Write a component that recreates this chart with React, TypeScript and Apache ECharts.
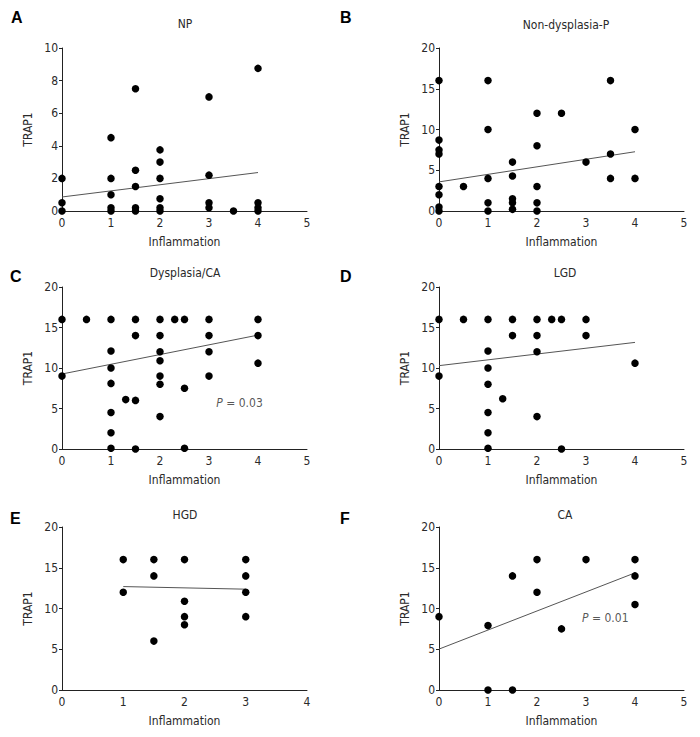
import React, { useEffect, useRef } from "react";
import * as echarts from "echarts";

const FONT = "'DejaVu Sans Condensed', 'DejaVu Sans', sans-serif";
const TXT = "#2a2a2a";

// Panel titles and letters
const panelLetters = ["A", "B", "C", "D", "E", "F"];
const panelTitles = ["NP", "Non-dysplasia-P", "Dysplasia/CA", "LGD", "HGD", "CA"];
const xAxisName = "Inflammation";
const yAxisName = "TRAP1";

// Axis ranges per panel
const xMaxes = [5, 5, 5, 5, 4, 5];
const yMaxes = [10, 20, 20, 20, 20, 20];
const yIntervals = [2, 5, 5, 5, 5, 5];

// Data points [inflammation, TRAP1]
const pointsNP = [
  [0, 2], [0, 0.5], [0, 0],
  [1, 4.5], [1, 2], [1, 1], [1, 0.2], [1, 0],
  [1.5, 7.5], [1.5, 2.5], [1.5, 1.5], [1.5, 0.2], [1.5, 0],
  [2, 3.75], [2, 3], [2, 2], [2, 0.75], [2, 0.2], [2, 0],
  [3, 7], [3, 2.2], [3, 0.5], [3, 0.2],
  [3.5, 0],
  [4, 8.75], [4, 0.5], [4, 0.2], [4, 0],
];
const pointsNonDysP = [
  [0, 16], [0, 8.7], [0, 7.5], [0, 7], [0, 3], [0, 2], [0, 0.5], [0, 0],
  [0.5, 3],
  [1, 16], [1, 10], [1, 4], [1, 1], [1, 0],
  [1.5, 6], [1.5, 4.3], [1.5, 1.5], [1.5, 1], [1.5, 0.2],
  [2, 12], [2, 8], [2, 3], [2, 1], [2, 0],
  [2.5, 12],
  [3, 6],
  [3.5, 16], [3.5, 7], [3.5, 4],
  [4, 10], [4, 4],
];
const pointsDysCA = [
  [0, 16], [0, 9],
  [0.5, 16],
  [1, 16], [1, 12.1], [1, 10], [1, 8.1], [1, 4.5], [1, 2], [1, 0.1],
  [1.3, 6.1],
  [1.5, 16], [1.5, 14], [1.5, 6], [1.5, 0],
  [2, 16], [2, 14], [2, 12], [2, 10.9], [2, 9], [2, 8], [2, 4],
  [2.3, 16],
  [2.5, 16], [2.5, 7.5], [2.5, 0.1],
  [3, 16], [3, 14], [3, 12], [3, 9],
  [4, 16], [4, 14], [4, 10.6],
];
const pointsLGD = [
  [0, 16], [0, 9],
  [0.5, 16],
  [1, 16], [1, 12.1], [1, 10], [1, 8], [1, 4.5], [1, 2], [1, 0.1],
  [1.3, 6.2],
  [1.5, 16], [1.5, 14],
  [2, 16], [2, 14], [2, 12], [2, 4],
  [2.3, 16],
  [2.5, 16], [2.5, 0],
  [3, 16], [3, 14],
  [4, 10.6],
];
const pointsHGD = [
  [1, 16], [1, 12],
  [1.5, 16], [1.5, 14], [1.5, 6],
  [2, 16], [2, 10.9], [2, 9], [2, 8],
  [3, 16], [3, 14], [3, 12], [3, 9],
];
const pointsCA = [
  [0, 9],
  [1, 7.9], [1, 0],
  [1.5, 14], [1.5, 0],
  [2, 16], [2, 12],
  [2.5, 7.5],
  [3, 16],
  [4, 16], [4, 14], [4, 10.5],
];

// Regression line endpoints
const fitNP = [[0, 0.86], [4, 2.36]];
const fitNonDysP = [[0, 3.57], [4, 7.27]];
const fitDysCA = [[0, 9.26], [4, 14.06]];
const fitLGD = [[0, 10.29], [4, 13.16]];
const fitHGD = [[1, 12.69], [3, 12.37]];
const fitCA = [[0, 5.02], [4, 14.37]];

// P-value annotations
const pAnnotations = [
  { panel: 2, at: [3.15, 5.7], value: "0.03" },
  { panel: 5, at: [2.92, 8.8], value: "0.01" },
];

const allPoints = [pointsNP, pointsNonDysP, pointsDysCA, pointsLGD, pointsHGD, pointsCA];
const allFits = [fitNP, fitNonDysP, fitDysCA, fitLGD, fitHGD, fitCA];

// Layout (pixels)
const grids = [
  { left: 62, top: 48, width: 245, height: 163 },
  { left: 439, top: 48, width: 245, height: 163 },
  { left: 62, top: 287, width: 245, height: 162 },
  { left: 439, top: 287, width: 245, height: 162 },
  { left: 62, top: 527, width: 245, height: 163 },
  { left: 439, top: 527, width: 245, height: 163 },
];
const letterPos = [[11, 9], [340, 9], [10, 268], [340, 268], [10, 510], [340, 510]];
const titlePos = [[185, 24], [566, 25], [185, 273], [565, 273], [185, 515], [565, 515]];

export default function App() {
  const ref = useRef<HTMLDivElement>(null);
  useEffect(() => {
    if (!ref.current) return;
    const chart = echarts.init(ref.current, null, { renderer: "svg" });

    const xAxes = grids.map((g, i) => ({
      type: "value",
      gridIndex: i,
      min: 0,
      max: xMaxes[i],
      interval: 1,
      name: xAxisName,
      nameLocation: "middle",
      nameGap: 25,
      nameTextStyle: { fontFamily: FONT, fontSize: 12, color: TXT },
      axisLine: { show: true, lineStyle: { color: "#222", width: 1 } },
      axisTick: { show: false },
      axisLabel: { fontFamily: FONT, fontSize: 12, color: TXT, margin: 6 },
      splitLine: { show: false },
    }));
    const yAxes = grids.map((g, i) => ({
      type: "value",
      gridIndex: i,
      min: 0,
      max: yMaxes[i],
      interval: yIntervals[i],
      name: yAxisName,
      nameLocation: "middle",
      nameGap: 28,
      nameTextStyle: { fontFamily: FONT, fontSize: 12, color: TXT },
      axisLine: { show: true, lineStyle: { color: "#222", width: 1 } },
      axisTick: { show: true, inside: false, length: 3, lineStyle: { color: "#222" } },
      axisLabel: { fontFamily: FONT, fontSize: 12, color: TXT, margin: 4 },
      splitLine: { show: false },
    }));

    const series: any[] = [];
    allPoints.forEach((pts, i) => {
      series.push({
        type: "line",
        xAxisIndex: i,
        yAxisIndex: i,
        data: allFits[i],
        showSymbol: false,
        symbol: "none",
        lineStyle: { color: "#555", width: 1 },
        z: 1,
      });
      series.push({
        type: "scatter",
        xAxisIndex: i,
        yAxisIndex: i,
        data: pts,
        symbol: "circle",
        symbolSize: 7.5,
        itemStyle: { color: "#000", opacity: 1 },
        clip: false,
        z: 3,
      });
    });
    pAnnotations.forEach((a) => {
      series.push({
        type: "scatter",
        xAxisIndex: a.panel,
        yAxisIndex: a.panel,
        data: [a.at],
        symbolSize: 0,
        silent: true,
        label: {
          show: true,
          position: "right",
          distance: 0,
          formatter: "{i|P} = " + a.value,
          fontFamily: FONT,
          fontSize: 12,
          color: TXT,
          rich: {
            i: { fontStyle: "italic", fontFamily: FONT, fontSize: 12, color: TXT },
          },
        },
      });
    });

    const graphics: any[] = [];
    panelLetters.forEach((l, i) => {
      graphics.push({
        type: "text",
        x: letterPos[i][0],
        y: letterPos[i][1],
        style: {
          text: l,
          fontFamily: "'Liberation Sans', Arial, sans-serif",
          fontWeight: "bold",
          fontSize: 16,
          fill: "#000",
        },
      });
    });
    panelTitles.forEach((t, i) => {
      graphics.push({
        type: "text",
        x: titlePos[i][0],
        y: titlePos[i][1],
        style: {
          text: t,
          fontFamily: FONT,
          fontSize: 12,
          fill: TXT,
          textAlign: "center",
          textVerticalAlign: "middle",
        },
      });
    });

    chart.setOption({
      animation: false,
      backgroundColor: "#ffffff",
      grid: grids,
      xAxis: xAxes,
      yAxis: yAxes,
      series,
      graphic: graphics,
    });
    return () => chart.dispose();
  }, []);
  return (
    <div
      ref={ref}
      style={{ position: "fixed", left: 0, top: 0, width: 700, height: 737, background: "#fff" }}
    />
  );
}
